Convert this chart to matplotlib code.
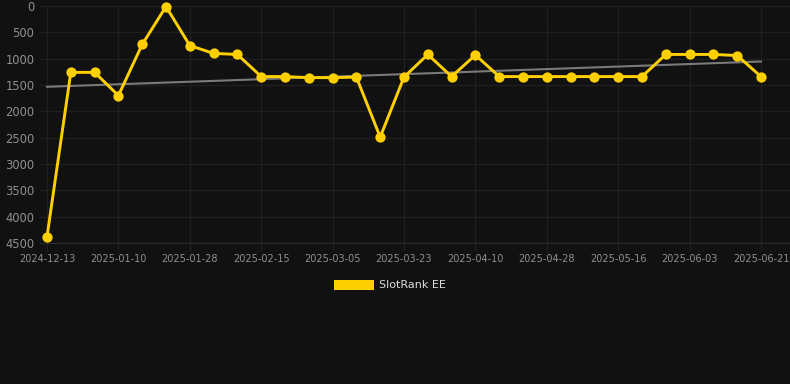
import numpy as np
import matplotlib
matplotlib.use("Agg")
import matplotlib.pyplot as plt
from matplotlib.patches import Patch

# ---- data ----
tick_labels = ["2024-12-13", "2025-01-10", "2025-01-28", "2025-02-15", "2025-03-05",
               "2025-03-23", "2025-04-10", "2025-04-28", "2025-05-16", "2025-06-03",
               "2025-06-21"]
rank_values = [4380, 1260, 1260, 1700, 730, 10, 750, 900, 920, 1340,
               1340, 1360, 1360, 1350, 2490, 1350, 920, 1340, 930, 1340,
               1340, 1340, 1340, 1340, 1340, 1340, 920, 920, 920, 940,
               1340]
series_name = "SlotRank EE"
tick_step = 3

BG = "#111111"
GOLD = "#FFD000"
GRID = "#1f1f1f"
TXT = "#8f8f8f"

W, H = 790, 384
fig = plt.figure(figsize=(W / 100, H / 100), dpi=100, facecolor=BG)
left_px, right_px, top_px, bottom_px = 40, 790, 6, 243
ax = fig.add_axes([left_px / W, 1 - bottom_px / H, (right_px - left_px) / W, (bottom_px - top_px) / H])
ax.set_facecolor(BG)

x = np.arange(len(rank_values))
y = np.array(rank_values, dtype=float)

# trend line (linear regression)
coef = np.polyfit(x, y, 1)
ax.plot([x[0], x[-1]], np.polyval(coef, [x[0], x[-1]]), color="#7a7a7a", lw=1.5, zorder=2)

ax.plot(x, y, color=GOLD, lw=2.1, marker="o", ms=7.4, markeredgewidth=0,
        zorder=3, clip_on=False)

# axes scaling: first point at px 47, last at px 761
px_per_idx = (761 - 47) / (len(rank_values) - 1)
xmin = -(47 - left_px) / px_per_idx
xmax = xmin + (right_px - left_px) / px_per_idx
ax.set_xlim(xmin, xmax)
ax.set_ylim(4500, 0)

ax.set_xticks(x[::tick_step])
ax.set_xticklabels(tick_labels)
ax.set_yticks(np.arange(0, 4501, 500))
ax.set_yticklabels([str(v) for v in range(0, 4501, 500)])

ax.tick_params(axis="x", colors=GRID, labelcolor=TXT, labelsize=7, length=6, width=1, pad=2)
ax.tick_params(axis="y", colors=GRID, labelcolor=TXT, labelsize=8.3, length=0, pad=4)
ax.grid(True, color=GRID, lw=1)
ax.set_axisbelow(True)
for s in ["top", "right", "left"]:
    ax.spines[s].set_visible(False)
ax.spines["bottom"].set_color("#2a2a2a")

handle = Patch(facecolor=GOLD, edgecolor="none", label=series_name)
fig.legend(handles=[handle], loc="center", bbox_to_anchor=(390 / W, 1 - 285 / H),
           frameon=False, fontsize=8, labelcolor="#dddddd",
           handlelength=3.6, handleheight=1.0, handletextpad=0.5)

fig.savefig("out.png", dpi=100, facecolor=BG)
